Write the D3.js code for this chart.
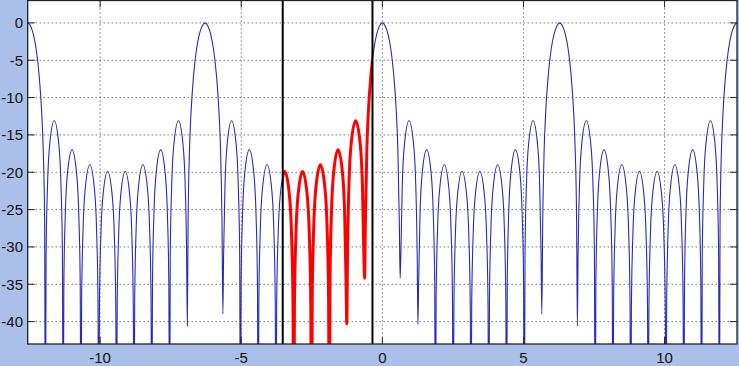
<!DOCTYPE html>
<html><head><meta charset="utf-8">
<script src="https://cdn.jsdelivr.net/npm/d3@7"></script>
<style>html,body{margin:0;padding:0;background:#aac0ea;} svg{display:block}</style>
</head><body><svg id="c" width="739" height="366"></svg>
<script>
// ---- data ----
const xTicks = [-10, -5, 0, 5, 10];
const yTicks = [0, -5, -10, -15, -20, -25, -30, -35, -40];
const xDomain = [-12.566, 12.566];
const yDomain = [-43, 3];

// main lobes (peaks) and the main-lobe flank shape (offset from peak, level)
const mainLobeX = [-12.566, -6.283, 0, 6.283, 12.566];
const mainLobeDb = [0, 0, 0, 0, 0];
const mainShapeDx = [0.1, 0.2, 0.3, 0.4, 0.5, 0.55, 0.6];
const mainShapeDb = [-0.4, -1.5, -3.5, -6.8, -12.3, -17, -26.4];

// nulls: position and the lowest level the drawn line reaches (-60 = below the axis)
const nullX = [-11.94, -11.31, -10.68, -10.05, -9.42, -8.80, -8.17, -7.54, -6.91,
               -5.65, -5.03, -4.40, -3.77, -3.14, -2.51, -1.88, -1.26, -0.63,
               0.63, 1.26, 1.88, 2.51, 3.14, 3.77, 4.40, 5.03, 5.65,
               6.91, 7.54, 8.17, 8.80, 9.42, 10.05, 10.68, 11.31, 11.94];
const nullDb = [-60, -60, -60, -60, -60, -60, -60, -60, -40.6,
                -39, -60, -60, -60, -60, -60, -60, -40.3, -34.2,
                -34.2, -40.4, -60, -60, -60, -60, -60, -60, -39,
                -40.6, -60, -60, -60, -60, -60, -60, -60, -60];

// side-lobe peak levels, left to right
const sidelobeDb = [-13.1, -17, -19, -19.9, -19.9, -19, -17, -13.1,
                    -13.1, -17, -19, -19.9, -19.9, -19, -17, -13.1,
                    -13.1, -17, -19, -19.9, -19.9, -19, -17, -13.1,
                    -13.1, -17, -19, -19.9, -19.9, -19, -17, -13.1];
// side-lobe shape: fraction across the lobe, level relative to its peak
const sideShapeT = [0.04, 0.12, 0.25, 0.5, 0.75, 0.88, 0.96];
const sideShapeDb = [-18, -8.7, -3, 0, -3, -8.7, -18];

// highlighted window (black markers, red segment)
const windowX = [-3.53, -0.35];

// ---- chart ----
const W = 739, H = 366;
const L = 27.7, R = 737, T = 0.5, B = 344;
const svg = d3.select('#c');
const x = d3.scaleLinear().domain(xDomain).range([L, R]);
const y = d3.scaleLinear().domain(yDomain).range([B, T]);

svg.append('rect').attr('x', L).attr('y', T).attr('width', R - L).attr('height', B - T).attr('fill', '#fff');

const defs = svg.append('defs');
defs.append('clipPath').attr('id', 'plot').append('rect')
  .attr('x', L).attr('y', T).attr('width', R - L).attr('height', B - T);
defs.append('clipPath').attr('id', 'win').append('rect')
  .attr('x', x(windowX[0])).attr('y', T).attr('width', x(windowX[1]) - x(windowX[0])).attr('height', B - T);

// grid
const g = svg.append('g');
g.selectAll('.gx').data(xTicks).enter().append('line')
  .attr('x1', d => x(d)).attr('x2', d => x(d)).attr('y1', T).attr('y2', B)
  .attr('stroke', '#333').attr('stroke-width', 1).attr('stroke-dasharray', '1,3');
g.selectAll('.gy').data(yTicks).enter().append('line')
  .attr('x1', L).attr('x2', R).attr('y1', d => y(d)).attr('y2', d => y(d))
  .attr('stroke', '#333').attr('stroke-width', 1).attr('stroke-dasharray', '1,3');

// build curve points from the read values
const pts = [];
mainLobeX.forEach((cx, i) => {
  pts.push([cx, mainLobeDb[i]]);
  mainShapeDx.forEach((d, j) => {
    pts.push([cx - d, mainLobeDb[i] + mainShapeDb[j]]);
    pts.push([cx + d, mainLobeDb[i] + mainShapeDb[j]]);
  });
});
nullX.forEach((v, i) => pts.push([v, nullDb[i]]));
let s = 0;
for (let i = 0; i < nullX.length - 1; i++) {
  const a = nullX[i], b = nullX[i + 1];
  if (b - a > 0.8) continue;
  sideShapeT.forEach((t, j) => pts.push([a + (b - a) * t, sidelobeDb[s] + sideShapeDb[j]]));
  s++;
}
pts.sort((p, q) => p[0] - q[0]);

const line = d3.line().x(d => x(d[0])).y(d => y(d[1])).curve(d3.curveMonotoneX);

svg.append('path').datum(pts).attr('clip-path', 'url(#plot)')
  .attr('d', line).attr('fill', 'none').attr('stroke', '#2a2ab8').attr('stroke-width', 1.1);

svg.append('g').attr('clip-path', 'url(#plot)').append('path').datum(pts).attr('clip-path', 'url(#win)')
  .attr('d', line).attr('fill', 'none').attr('stroke', '#ff0000').attr('stroke-width', 3)
  .attr('stroke-linejoin', 'round');

// window markers
svg.selectAll('.wl').data(windowX).enter().append('line')
  .attr('x1', d => x(d)).attr('x2', d => x(d)).attr('y1', T).attr('y2', B)
  .attr('stroke', '#000').attr('stroke-width', 2);

// axes box
svg.append('rect').attr('x', L).attr('y', T).attr('width', R - L).attr('height', B - T)
  .attr('fill', 'none').attr('stroke', '#222').attr('stroke-width', 1.3);

// ticks (inside)
const tl = 7;
xTicks.forEach(v => {
  svg.append('line').attr('x1', x(v)).attr('x2', x(v)).attr('y1', B).attr('y2', B - tl).attr('stroke', '#222');
  svg.append('line').attr('x1', x(v)).attr('x2', x(v)).attr('y1', T).attr('y2', T + tl).attr('stroke', '#222');
});
yTicks.forEach(v => {
  svg.append('line').attr('x1', L).attr('x2', L + tl).attr('y1', y(v)).attr('y2', y(v)).attr('stroke', '#222');
  svg.append('line').attr('x1', R).attr('x2', R - tl).attr('y1', y(v)).attr('y2', y(v)).attr('stroke', '#222');
});

// tick labels
const font = "'Liberation Sans', Arial, Helvetica, sans-serif";
svg.selectAll('.xl').data(xTicks).enter().append('text')
  .attr('x', d => x(d)).attr('y', 362.5).attr('text-anchor', 'middle')
  .attr('font-family', font).attr('font-size', 15).attr('fill', '#111').text(d => d);
svg.selectAll('.yl').data(yTicks).enter().append('text')
  .attr('x', 23).attr('y', d => y(d) + 5.5).attr('text-anchor', 'end')
  .attr('font-family', font).attr('font-size', 15).attr('fill', '#111').text(d => d);
</script>
</body></html>
